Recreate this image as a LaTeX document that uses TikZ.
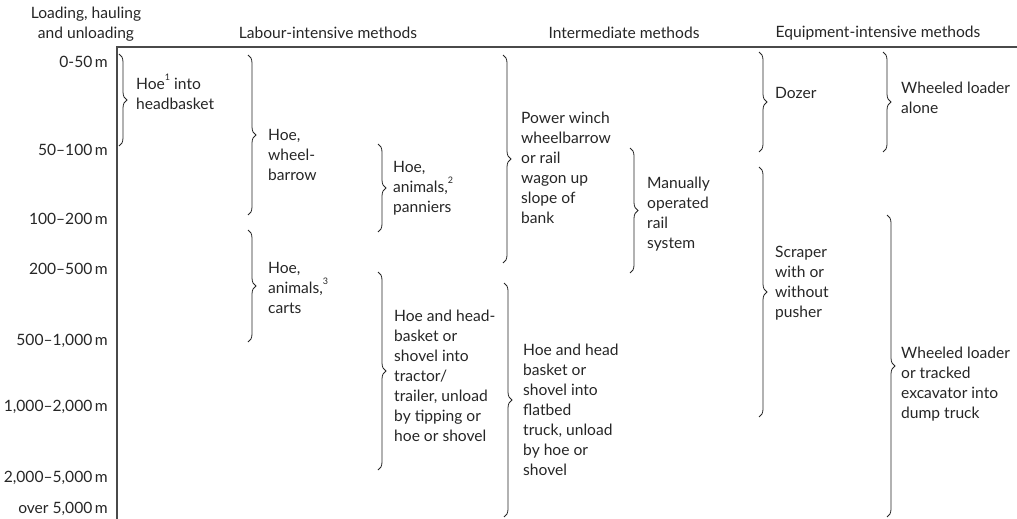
\documentclass[tikz,border=0pt]{standalone}
\usepackage{fontspec}
\setmainfont{Lato}
\usetikzlibrary{decorations.pathreplacing}
\definecolor{ink}{HTML}{262626}
\definecolor{rule}{HTML}{4A4A4A}
\newcommand{\fnmark}[1]{\raisebox{0.55em}{\fontsize{9}{9}\selectfont #1}}
\begin{document}
\begin{tikzpicture}[x=1pt,y=-1pt,
  txt/.style={font=\fontsize{15.6}{20}\selectfont, text=ink, inner sep=0pt},
  lbl/.style={txt, align=left, anchor=west},
  dist/.style={txt, anchor=east},
  hdr/.style={txt, anchor=center, align=center},
  brc/.style={draw=ink, line width=0.8pt, decorate, decoration={brace, amplitude=8pt}},
  axisline/.style={draw=rule, line width=1.6pt}]
\useasboundingbox (0,0) rectangle (1017,519);
% axes
\coordinate (origin) at (117,47);
\coordinate (xend) at (1017,47);
\coordinate (yend) at (117,519);
\draw[axisline] (xend) -- (origin) -- (yend);
% headers
\node[hdr] (hload) at (86,24) {Loading, hauling\\and unloading};
\node[hdr] (hlab) at (328,33) {Labour-intensive methods};
\node[hdr] (hint) at (624,33) {Intermediate methods};
\node[hdr] (heq) at (878,33) {Equipment-intensive methods};
% distances
\node[dist] (d1) at (108,62) {0-50\,m};
\node[dist] (d2) at (108,150) {50–100\,m};
\node[dist] (d3) at (108,219) {100–200\,m};
\node[dist] (d4) at (108,269) {200–500\,m};
\node[dist] (d5) at (108,341) {500–1,000\,m};
\node[dist] (d6) at (108,407) {1,000–2,000\,m};
\node[dist] (d7) at (108,478) {2,000–5,000\,m};
\node[dist] (d8) at (108,509) {over 5,000\,m};
% braces: path at spine-4
\coordinate (b1t) at (119,54);  \coordinate (b1b) at (119,146);
\coordinate (b2t) at (248,55);  \coordinate (b2b) at (248,215);
\coordinate (b3t) at (378,144); \coordinate (b3b) at (378,232);
\coordinate (b4t) at (248,230); \coordinate (b4b) at (248,342);
\coordinate (b5t) at (378,272); \coordinate (b5b) at (378,470);
\coordinate (b6t) at (503,55);  \coordinate (b6b) at (503,263);
\coordinate (b7t) at (630,148); \coordinate (b7b) at (630,273);
\coordinate (b8t) at (504,283); \coordinate (b8b) at (504,517);
\coordinate (b9t) at (759,52);  \coordinate (b9b) at (759,152);
\coordinate (b10t) at (883,52); \coordinate (b10b) at (883,152);
\coordinate (b11t) at (759,167); \coordinate (b11b) at (759,417);
\coordinate (b12t) at (887,215); \coordinate (b12b) at (887,517);
\foreach \i in {1,...,12} {\draw[brc] (b\i t) -- (b\i b);}
% texts
\node[lbl] (t1) at (136,92) {Hoe\fnmark{1} into\\headbasket};
\node[lbl] (t2) at (268,155) {Hoe,\\wheel-\\barrow};
\node[lbl] (t3) at (393,188) {Hoe,\\animals,\fnmark{2}\\panniers};
\node[lbl] (t4) at (268,288) {Hoe,\\animals,\fnmark{3}\\carts};
\node[lbl] (t5) at (394,376) {Hoe and head-\\basket or\\shovel into\\tractor/\\trailer, unload\\by tipping or\\hoe or shovel};
\node[lbl] (t6) at (521,168) {Power winch\\wheelbarrow\\or rail\\wagon up\\slope of\\bank};
\node[lbl] (t7) at (647,214) {Manually\\operated\\rail\\system};
\node[lbl] (t8) at (523,410) {Hoe and head\\basket or\\shovel into\\flatbed\\truck, unload\\by hoe or\\shovel};
\node[lbl] (t9) at (775,93) {Dozer};
\node[lbl] (t10) at (901,98) {Wheeled loader\\alone};
\node[lbl] (t11) at (775,283) {Scraper\\with or\\without\\pusher};
\node[lbl] (t12) at (901,384) {Wheeled loader\\or tracked\\excavator into\\dump truck};
\end{tikzpicture}
\end{document}
